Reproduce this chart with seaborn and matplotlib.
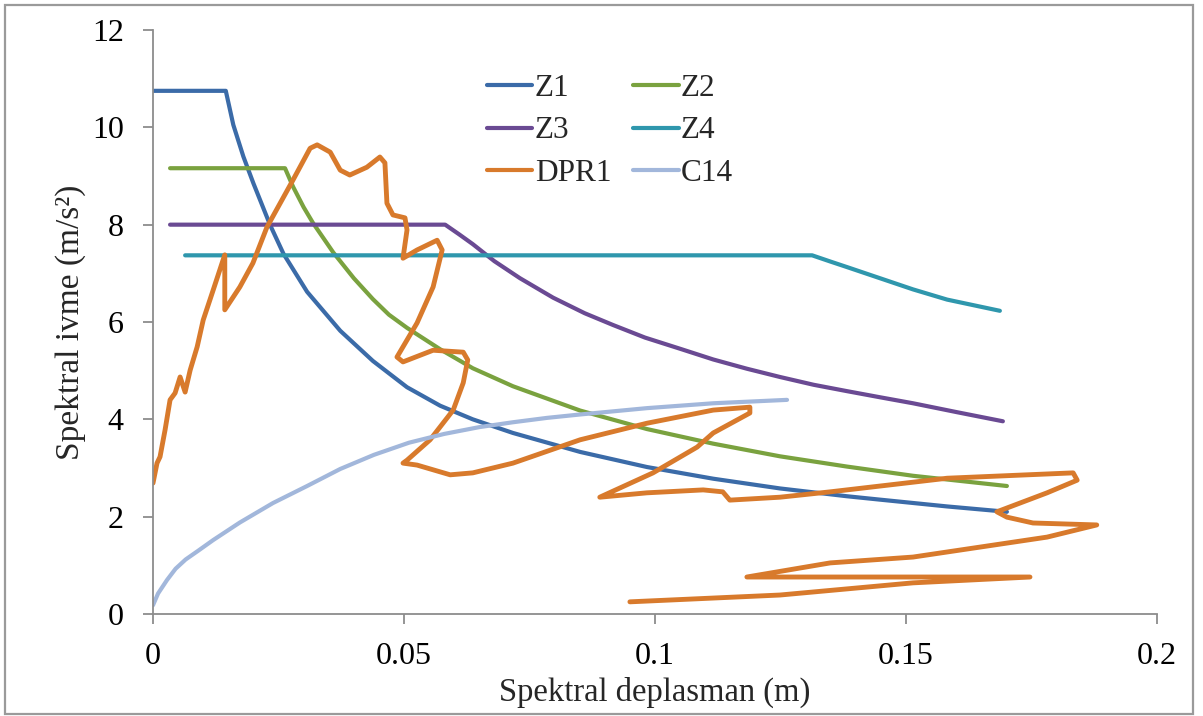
import matplotlib
matplotlib.use("Agg")
import matplotlib.pyplot as plt
from matplotlib.patches import Rectangle
import seaborn as sns
import pandas as pd

# ---------------- data ----------------
series_names = ["Z1", "Z2", "Z3", "Z4", "DPR1", "C14"]

z1_x = [0.0, 0.0145, 0.0160, 0.0180, 0.0200, 0.0233, 0.0260, 0.0307, 0.0373, 0.0438,
        0.0506, 0.0572, 0.0637, 0.0717, 0.0851, 0.0984, 0.1116, 0.1249, 0.1382, 0.1448,
        0.1582, 0.1701]
z1_y = [10.75, 10.75, 10.05, 9.40, 8.85, 8.00, 7.40, 6.62, 5.82, 5.20,
        4.66, 4.28, 4.00, 3.72, 3.33, 3.02, 2.78, 2.58, 2.42, 2.35,
        2.21, 2.10]

z2_x = [0.0034, 0.0263, 0.0279, 0.0300, 0.0319, 0.0359, 0.0400, 0.0438, 0.0470, 0.0506,
        0.0572, 0.0637, 0.0717, 0.0851, 0.0984, 0.1116, 0.1249, 0.1382, 0.1514, 0.1701]
z2_y = [9.16, 9.16, 8.78, 8.36, 8.03, 7.43, 6.90, 6.47, 6.15, 5.88,
        5.44, 5.05, 4.68, 4.18, 3.80, 3.50, 3.24, 3.03, 2.84, 2.63]

z3_x = [0.0034, 0.0582, 0.0610, 0.0637, 0.0680, 0.0731, 0.0797, 0.0860, 0.0916, 0.0980,
        0.1050, 0.1116, 0.1183, 0.1249, 0.1316, 0.1382, 0.1450, 0.1514, 0.1600, 0.1693]
z3_y = [8.0, 8.0, 7.80, 7.60, 7.25, 6.90, 6.50, 6.18, 5.94, 5.68,
        5.45, 5.23, 5.04, 4.87, 4.71, 4.58, 4.45, 4.33, 4.15, 3.96]

z4_x = [0.0064, 0.1313, 0.1350, 0.1382, 0.1448, 0.1514, 0.1582, 0.1687]
z4_y = [7.37, 7.37, 7.24, 7.13, 6.90, 6.67, 6.46, 6.23]

dpr1_x = [0.0, 0.0008, 0.0014, 0.0024, 0.0034, 0.0044, 0.0054, 0.0064, 0.0074, 0.0088,
          0.0100, 0.0120, 0.0143, 0.0143, 0.0173, 0.0199, 0.0227, 0.0279, 0.0313, 0.0327,
          0.0353, 0.0373, 0.0392, 0.0426, 0.0452, 0.0462, 0.0466, 0.0478, 0.0502, 0.0506,
          0.0498, 0.0526, 0.0566, 0.0576, 0.0558, 0.0526, 0.0486, 0.0498, 0.0558, 0.0618,
          0.0627, 0.0618, 0.0598, 0.0552, 0.0506, 0.0498, 0.0526, 0.0592, 0.0637, 0.0717,
          0.0851, 0.0984, 0.1116, 0.1189, 0.1189, 0.1116, 0.1084, 0.0996, 0.0890, 0.0984,
          0.1096, 0.1135, 0.1149, 0.1249, 0.1349, 0.1582, 0.1833, 0.1841, 0.1781, 0.1681,
          0.1701, 0.1753, 0.1880, 0.1781, 0.1514, 0.1349, 0.1183, 0.1349, 0.1747, 0.1514,
          0.1249, 0.0950]
dpr1_y = [2.69, 3.10, 3.23, 3.78, 4.40, 4.54, 4.87, 4.56, 5.01, 5.49,
          6.04, 6.66, 7.38, 6.25, 6.72, 7.21, 7.95, 8.92, 9.57, 9.64,
          9.49, 9.12, 9.02, 9.18, 9.39, 9.27, 8.44, 8.20, 8.14, 7.89,
          7.31, 7.48, 7.68, 7.48, 6.72, 5.98, 5.28, 5.18, 5.42, 5.38,
          5.22, 4.75, 4.19, 3.58, 3.16, 3.10, 3.06, 2.86, 2.90, 3.10,
          3.58, 3.92, 4.19, 4.25, 4.13, 3.72, 3.43, 2.90, 2.40, 2.49,
          2.55, 2.51, 2.34, 2.40, 2.51, 2.79, 2.90, 2.75, 2.49, 2.10,
          1.99, 1.87, 1.83, 1.58, 1.17, 1.05, 0.76, 0.76, 0.76, 0.64,
          0.39, 0.25]

c14_x = [0.0, 0.0010, 0.0028, 0.0045, 0.0065, 0.0090, 0.0120, 0.0173, 0.0239, 0.0307,
         0.0373, 0.0440, 0.0510, 0.0580, 0.0650, 0.0717, 0.0785, 0.0851, 0.0984, 0.1116,
         0.1263]
c14_y = [0.18, 0.42, 0.70, 0.93, 1.12, 1.30, 1.52, 1.88, 2.28, 2.63,
         2.98, 3.27, 3.52, 3.70, 3.84, 3.94, 4.03, 4.10, 4.23, 4.33,
         4.40]

x_ticks = [0, 0.05, 0.1, 0.15, 0.2]
x_tick_labels = ["0", "0.05", "0.1", "0.15", "0.2"]
y_ticks = [0, 2, 4, 6, 8, 10, 12]
y_tick_labels = ["0", "2", "4", "6", "8", "10", "12"]

x_label = "Spektral deplasman (m)"
y_label = "Spektral ivme (m/s²)"

colors = {"Z1": "#3B6BA8", "Z2": "#7AA23F", "Z3": "#6A4A93",
          "Z4": "#2F97AD", "DPR1": "#D87A2C", "C14": "#A2B7DB"}

# ---------------- build long table ----------------
xs = [z1_x, z2_x, z3_x, z4_x, dpr1_x, c14_x]
ys = [z1_y, z2_y, z3_y, z4_y, dpr1_y, c14_y]
rows = []
for name, xv, yv in zip(series_names, xs, ys):
    for i, (a, b) in enumerate(zip(xv, yv)):
        rows.append({"series": name, "x": a, "y": b, "order": i})
df = pd.DataFrame(rows)

# ---------------- style ----------------
sns.set_style("ticks")
plt.rcParams["font.family"] = ["Liberation Serif", "DejaVu Serif"]
FS = 23

fig = plt.figure(figsize=(12.03, 7.16), dpi=100)
ax = fig.add_axes([153 / 1203, 1 - 614 / 716, (1157 - 153) / 1203, (614 - 30) / 716])

sns.lineplot(data=df, x="x", y="y", hue="series", hue_order=series_names,
             palette=colors, sort=False, estimator=None, linewidth=3.0,
             ax=ax, legend=True)
for line in ax.lines:
    line.set_solid_capstyle("round")
    line.set_solid_joinstyle("round")
# the DPR1 record is drawn a little heavier in the original
ax.lines[series_names.index("DPR1")].set_linewidth(3.5)

ax.set_xlim(0, 0.2)
ax.set_ylim(0, 12)
ax.set_xticks(x_ticks)
ax.set_xticklabels(x_tick_labels)
ax.set_yticks(y_ticks)
ax.set_yticklabels(y_tick_labels)
ax.set_xlabel(x_label, fontsize=FS + 0.5, labelpad=4)
ax.set_ylabel(y_label, fontsize=FS + 1, labelpad=4)

for s in ["top", "right"]:
    ax.spines[s].set_visible(False)
for s in ["left", "bottom"]:
    ax.spines[s].set_color("#8C8C8C")
    ax.spines[s].set_linewidth(1.3)
ax.tick_params(axis="both", direction="out", length=7, width=1.3,
               color="#8C8C8C", labelsize=FS, labelcolor="black")
ax.tick_params(axis="x", pad=13)
ax.tick_params(axis="y", pad=14)

# legend filled row by row: Z1 Z2 / Z3 Z4 / DPR1 C14
handles, labels = ax.get_legend_handles_labels()
hmap = dict(zip(labels, handles))
leg_order = ["Z1", "Z3", "DPR1", "Z2", "Z4", "C14"]
ax.legend([hmap[k] for k in leg_order], leg_order, ncol=2, frameon=False,
          fontsize=FS - 0.5, loc="upper left",
          bbox_to_anchor=(487 / 1203, 1 - 74 / 716),
          bbox_transform=fig.transFigure, borderpad=0, borderaxespad=0,
          handlelength=1.45, handletextpad=0.08, columnspacing=0.7,
          labelspacing=0.43)
for lh in ax.get_legend().get_lines():
    lh.set_linewidth(3.0)
    lh.set_solid_capstyle("round")

fig.patches.append(Rectangle((5 / 1203, 2 / 716), 1188 / 1203, 709 / 716,
                             transform=fig.transFigure, fill=False,
                             edgecolor="#9A9A9A", linewidth=1.6))

fig.savefig("out.png", dpi=100)
